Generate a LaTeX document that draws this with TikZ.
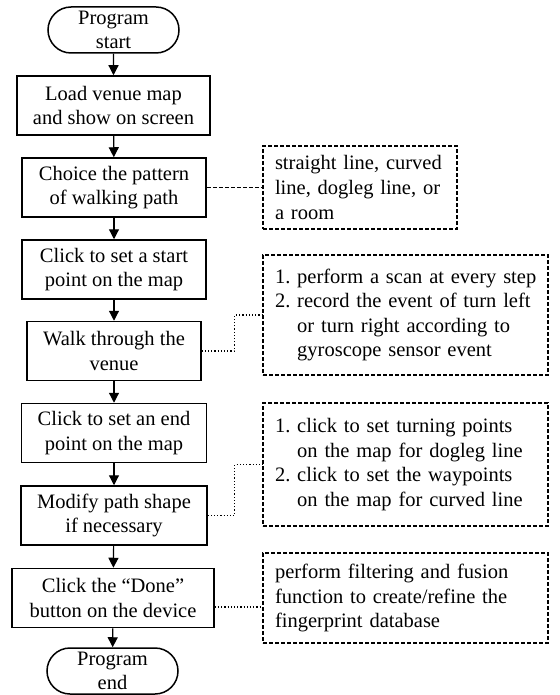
\documentclass[tikz,border=0pt]{standalone}
\usepackage{fontspec}
\setmainfont{Liberation Serif}
\usepackage{tikz}
\usetikzlibrary{arrows.meta}
\usetikzlibrary{shapes}
\usetikzlibrary{shapes.misc}
\tikzset{>={Triangle[length=5pt,width=5pt]}}
\newcommand{\chartfont}{\fontsize{10.25pt}{12.3pt}\selectfont}
\tikzstyle{proc} = [rectangle, draw, line width=0.75pt, align=center, minimum width=92pt, minimum height=29.5pt, inner xsep=8pt, inner ysep=0pt]
\tikzstyle{term} = [rounded rectangle, draw, line width=0.75pt, align=center, minimum width=65.5pt, minimum height=23pt, inner sep=0pt]
\tikzstyle{note} = [rectangle, draw, dash pattern=on 2pt off 1pt, line width=0.6pt, align=left, text width=130.5pt, inner xsep=6pt, inner ysep=0pt]
\tikzstyle{flow} = [->, line width=0.6pt]
\tikzstyle{cor} = [-, line width=0.6pt, densely dotted]

\begin{document}
\begin{tikzpicture}[x=0.5pt, y=-0.5pt, font=\chartfont]
\useasboundingbox (0,0) rectangle (560,695);
% main column
\node [term] (S) at (113.5, 30) {Program\\start};
\node [proc, minimum width=96.5pt] (M) at (113.5, 105.5) {Load venue map\\and show on screen};
\node [proc] (P) at (114, 187.5) {Choice the pattern\\of walking path};
\node [proc] (B) at (114, 269.5) {Click to set a start\\point on the map};
\node [proc, minimum width=85pt] (W) at (114, 351) {Walk through the\\venue};
\node [proc] (E) at (114, 433) {Click to set an end\\point on the map};
\node [proc] (F) at (114, 515.5) {Modify path shape\\if necessary};
\node [proc, minimum width=101pt] (D) at (113, 598) {Click the “Done”\\button on the device};
\node [term] (T) at (112.5, 671) {Program\\end};
% notes
\node [note, text width=85pt, minimum height=41.5pt] (nP) at (360, 187.5) {straight line, curved\\line, dogleg line, or\\a room};
\node [note, minimum height=60pt] (nW) at (405.5, 315) {\begin{tabular}{@{}l@{\ }l@{}}1. & perform a scan at every step\\2. & record the event of turn left\\ & or turn right according to\\ & gyroscope sensor event\end{tabular}};
\node [note, minimum height=61.5pt] (nF) at (405.5, 464.5) {\begin{tabular}{@{}l@{\ }l@{}}1. & click to set turning points\\ & on the map for dogleg line\\2. & click to set the waypoints\\ & on the map for curved line\end{tabular}};
\node [note, minimum height=45pt] (nD) at (405.5, 598) {perform filtering and fusion\\function to create/refine the\\fingerprint database};
\draw [flow] (S) to (M);
\draw [flow] (M) to (P);
\draw [flow] (P) to (B);
\draw [flow] (B) to (W);
\draw [flow] (W) to (E);
\draw [flow] (E) to (F);
\draw [flow] (F) to (D);
\draw [flow] (D) to (T);
\draw [-, line width=0.6pt, dash pattern=on 2pt off 1pt] (P) to (nP);
\draw [cor] (W.east) -- ++(16.5pt, 0) |- (nW.west);
\draw [cor] (F.east) -- ++(13.5pt, 0) |- (nF.west);
\draw [cor] ([yshift=-4.5pt]D.east) -- ([yshift=-4.5pt]D.east -| nD.west);
\end{tikzpicture}
\end{document}
